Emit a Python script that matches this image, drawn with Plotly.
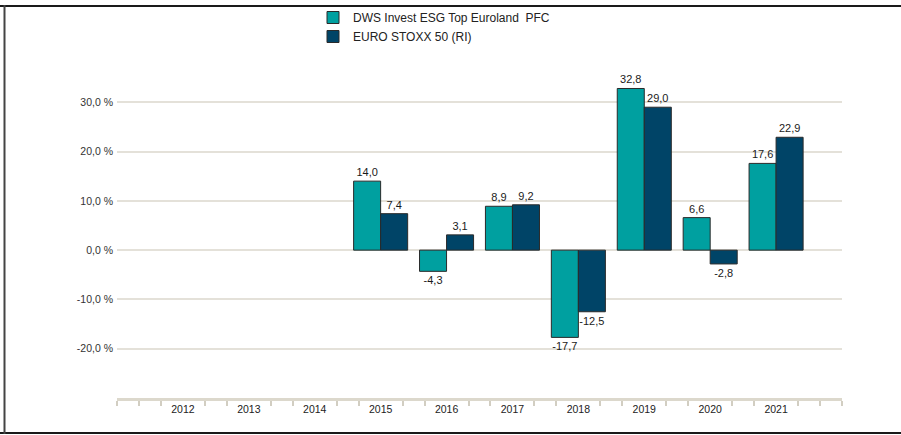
import plotly.graph_objects as go

years = [2012, 2013, 2014, 2015, 2016, 2017, 2018, 2019, 2020, 2021]
fund_name = "DWS Invest ESG Top Euroland\u00a0 PFC"
bench_name = "EURO STOXX 50 (RI)"
fund_values = [None, None, None, 14.0, -4.3, 8.9, -17.7, 32.8, 6.6, 17.6]
bench_values = [None, None, None, 7.4, 3.1, 9.2, -12.5, 29.0, -2.8, 22.9]
y_ticks = [-20, -10, 0, 10, 20, 30, 40]
y_ticklabels = ["-20,0 %", "-10,0 %", "0,0 %", "10,0 %", "20,0 %", "30,0 %", ""]

TEAL = "#00a0a0"
NAVY = "#004467"


def fmt(v):
    return "" if v is None else f"{v:.1f}".replace(".", ",")


fig = go.Figure()
for name, vals, col in [(fund_name, fund_values, TEAL), (bench_name, bench_values, NAVY)]:
    fig.add_trace(go.Bar(
        x=years, y=vals, name=name,
        marker=dict(color=col, line=dict(color="#2a2a2a", width=1)),
        text=[fmt(v) for v in vals], textposition="outside",
        textfont=dict(family="Liberation Sans, Arial, sans-serif", size=11, color="#1a1a1a"),
        constraintext="none", cliponaxis=False,
    ))

x0, x1 = years[0] - 1, years[-1] + 1
minor_vals = []
for k in range(3 * (x1 - x0) + 1):
    if k % 3 == 0 and 0 < k < 3 * (x1 - x0):
        continue
    minor_vals.append(x0 + k / 3)

L, R, T, B = 117, 59, 53, 37
W, H = 901, 435
pw, ph = W - L - R, H - T - B


def px(x):
    return (x - L) / pw


def py(y):
    return (H - B - y) / ph


fig.update_layout(
    width=W, height=H,
    margin=dict(l=L, r=R, t=T, b=B, pad=0, autoexpand=False),
    paper_bgcolor="white", plot_bgcolor="white",
    barmode="group", bargap=0.18, bargroupgap=0,
    font=dict(family="Liberation Sans, Arial, sans-serif", color="#333333"),
    showlegend=True,
    legend=dict(
        x=px(313), y=py(3), xanchor="left", yanchor="top",
        font=dict(size=12, color="#222222"), bgcolor="rgba(0,0,0,0)",
        tracegroupgap=0, itemclick=False,
    ),
    xaxis=dict(
        range=[x0, x1], tickmode="array", tickvals=years, ticktext=[str(y) for y in years],
        ticks="", showgrid=False, zeroline=False,
        showline=True, linecolor="#dcd8cc", linewidth=2.5,
        tickfont=dict(size=10.5, color="#222222"),
        minor=dict(tickmode="array", tickvals=minor_vals, ticks="outside", ticklen=5,
                   tickcolor="#d2cec2", tickwidth=1.5, showgrid=False),
    ),
    yaxis=dict(
        range=[-30, 40], tickmode="array", tickvals=y_ticks, ticktext=y_ticklabels,
        showgrid=True, gridcolor="#e4e1d9", gridwidth=1.5, zeroline=False,
        ticks="", showline=False, ticklabelstandoff=3,
        tickfont=dict(size=10.5, color="#333333"),
    ),
    shapes=[
        dict(type="line", xref="paper", yref="paper", x0=px(0), x1=px(W), y0=py(6), y1=py(6),
             line=dict(color="#1a1a1a", width=2)),
        dict(type="line", xref="paper", yref="paper", x0=px(0), x1=px(W), y0=py(433), y1=py(433),
             line=dict(color="#1a1a1a", width=2)),
        dict(type="line", xref="paper", yref="paper", x0=px(4.5), x1=px(4.5), y0=py(5), y1=py(434),
             line=dict(color="#444444", width=2)),
    ],
)

fig.write_html(
    "out.html",
    config={"displayModeBar": False},
    post_script="document.documentElement.style.margin='0';document.body.style.margin='0';"
                "document.body.style.padding='0';document.body.style.overflow='hidden';",
)
